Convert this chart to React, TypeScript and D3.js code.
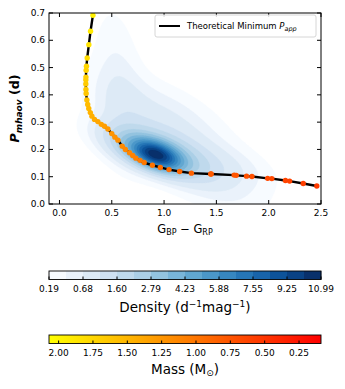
import React, { useMemo } from 'react'
import * as d3 from 'd3'

// theoretical minimum period curve, coloured by stellar mass
const CURVE_COLOR = [
  0.32, 0.297, 0.281, 0.265, 0.258, 0.255, 0.253, 0.252, 0.252, 0.253, 0.255, 0.262,
  0.27, 0.28, 0.295, 0.31, 0.335, 0.367, 0.4, 0.43, 0.463, 0.5, 0.53, 0.559, 0.6,
  0.63, 0.67, 0.7, 0.73, 0.77, 0.81, 0.888, 0.964, 1.047, 1.149, 1.261, 1.446, 1.45,
  1.67, 1.69, 1.788, 1.84, 1.99, 2.03, 2.16, 2.2, 2.33, 2.46,
]
const CURVE_PERIOD = [
  0.692, 0.633, 0.584, 0.535, 0.505, 0.49, 0.465, 0.455, 0.44, 0.42, 0.405, 0.381,
  0.365, 0.35, 0.335, 0.322, 0.31, 0.302, 0.292, 0.285, 0.275, 0.258, 0.245, 0.234,
  0.212, 0.2, 0.188, 0.178, 0.168, 0.16, 0.152, 0.142, 0.134, 0.126, 0.119, 0.113,
  0.11, 0.11, 0.106, 0.105, 0.102, 0.101, 0.094, 0.093, 0.086, 0.084, 0.075, 0.066,
]
const CURVE_MASS = [
  1.95, 1.9, 1.85, 1.8, 1.75, 1.72, 1.7, 1.68, 1.66, 1.64, 1.62, 1.58, 1.55, 1.52,
  1.48, 1.45, 1.42, 1.38, 1.35, 1.32, 1.28, 1.25, 1.22, 1.2, 1.17, 1.15, 1.13, 1.1,
  1.08, 1.05, 1.02, 0.98, 0.95, 0.92, 0.88, 0.85, 0.8, 0.8, 0.75, 0.74, 0.72, 0.7,
  0.66, 0.65, 0.62, 0.61, 0.58, 0.55,
]

// density field: gaussian components estimated from the shaded KDE
const KDE_AMP = [7.3, 3.0, 0.8, 0.5, 0.45, 0.35]
const KDE_CX = [0.92, 0.9, 1.2, 1.0, 0.57, 1.65]
const KDE_CY = [0.18, 0.19, 0.17, 0.33, 0.43, 0.14]
const KDE_SX = [0.15, 0.3, 0.45, 0.42, 0.17, 0.3]
const KDE_SY = [0.035, 0.06, 0.13, 0.1, 0.2, 0.06]
const KDE_RHO = [-0.45, -0.6, -0.75, -0.6, -0.3, -0.5]

// contour levels (labelled every second level)
const LEVELS = [
  0.19, 0.42, 0.68, 1.12, 1.6, 2.2, 2.79, 3.5, 4.23, 5.05, 5.88, 6.7, 7.55, 8.4,
  9.25, 10.1, 10.99,
]

const X_TICKS = [0, 0.5, 1, 1.5, 2, 2.5]
const Y_TICKS = [0, 0.1, 0.2, 0.3, 0.4, 0.5, 0.6, 0.7]
const MASS_TICKS = [2.0, 1.75, 1.5, 1.25, 1.0, 0.75, 0.5, 0.25]
const MASS_MIN = 0.09
const MASS_MAX = 2.07

const W = 345
const H = 389
const margin = { left: 49, right: 24, top: 13, bottom: 185 }
const FONT = 'DejaVu Sans, sans-serif'

function density(x: number, y: number) {
  let s = 0
  for (let i = 0; i < KDE_AMP.length; i++) {
    const u = (x - KDE_CX[i]) / KDE_SX[i]
    const v = (y - KDE_CY[i]) / KDE_SY[i]
    const r = KDE_RHO[i]
    const q = (u * u - 2 * r * u * v + v * v) / (1 - r * r)
    s += KDE_AMP[i] * Math.exp(-q / 2)
  }
  return s
}

const massColor = (m: number) => {
  const g = Math.max(0, Math.min(1, (m - MASS_MIN) / (MASS_MAX - MASS_MIN)))
  return d3.rgb(255, 255 * g, 0).formatHex()
}

export default function App() {
  const iw = W - margin.left - margin.right
  const ih = H - margin.top - margin.bottom
  const x = d3.scaleLinear().domain([-0.1, 2.5]).range([margin.left, margin.left + iw])
  const y = d3.scaleLinear().domain([0, 0.7]).range([margin.top + ih, margin.top])

  const nBands = LEVELS.length - 1
  const bandColor = (i: number) => d3.interpolateBlues(i / (nBands - 1))

  const contours = useMemo(() => {
    const nx = 260
    const ny = 200
    const x0 = -0.1, x1 = 2.5, y0 = 0, y1 = 0.8
    const vals = new Array(nx * ny)
    for (let j = 0; j < ny; j++) {
      for (let i = 0; i < nx; i++) {
        const dx = x0 + ((x1 - x0) * i) / (nx - 1)
        const dy = y0 + ((y1 - y0) * j) / (ny - 1)
        vals[j * nx + i] = density(dx, dy)
      }
    }
    const gen = d3.contours().size([nx, ny]).thresholds(LEVELS.slice(0, -1))
    const cs = gen(vals)
    const gx = d3.scaleLinear().domain([0, nx - 1]).range([x(x0), x(x1)])
    const gy = d3.scaleLinear().domain([0, ny - 1]).range([y(y0), y(y1)])
    const proj = d3.geoTransform({
      point(px: number, py: number) {
        this.stream.point(gx(px - 0.5), gy(py - 0.5))
      },
    })
    const path = d3.geoPath(proj)
    return cs.map((c) => path(c) || '')
  }, [])

  const line = d3
    .line<number>()
    .x((_, i) => x(CURVE_COLOR[i]))
    .y((_, i) => y(CURVE_PERIOD[i]))
  const curvePath = line(CURVE_COLOR) || ''

  // colorbars
  const cbLeft = margin.left
  const cbWidth = iw
  const cb1Top = 271
  const cbH = 8.5
  const cb2Top = 335
  const levelX = d3
    .scaleLinear()
    .domain(LEVELS)
    .range(LEVELS.map((_, i) => cbLeft + (cbWidth * i) / nBands))
  const massX = d3.scaleLinear().domain([MASS_MAX, MASS_MIN]).range([cbLeft, cbLeft + cbWidth])
  const labelLevels = LEVELS.filter((_, i) => i % 2 === 0)

  const tickLen = 4

  return (
    <svg
      width={W}
      height={H}
      style={{ position: 'absolute', left: 0, top: 0, background: '#fff' }}
      fontFamily={FONT}
    >
      <defs>
        <clipPath id="plotClip">
          <rect x={margin.left} y={margin.top} width={iw} height={ih} />
        </clipPath>
        <linearGradient id="massGrad" x1="0" x2="1" y1="0" y2="0">
          {d3.range(0, 1.0001, 0.1).map((t) => (
            <stop
              key={t}
              offset={t}
              stopColor={massColor(massX.invert(cbLeft + t * cbWidth))}
            />
          ))}
        </linearGradient>
      </defs>

      <g clipPath="url(#plotClip)">
        {contours.map((d, i) => (
          <path key={i} d={d} fill={bandColor(i)} stroke={bandColor(i)} strokeWidth={0.3} />
        ))}
        <path d={curvePath} fill="none" stroke="#000" strokeWidth={2.4} />
        {CURVE_COLOR.map((c, i) => (
          <circle key={i} cx={x(c)} cy={y(CURVE_PERIOD[i])} r={2.7} fill={massColor(CURVE_MASS[i])} />
        ))}
      </g>

      {/* frame */}
      <rect x={margin.left} y={margin.top} width={iw} height={ih} fill="none" stroke="#000" strokeWidth={1} />

      {X_TICKS.map((t) => (
        <g key={'x' + t}>
          <line x1={x(t)} x2={x(t)} y1={y(0)} y2={y(0) - tickLen} stroke="#000" />
          <line x1={x(t)} x2={x(t)} y1={y(0.7)} y2={y(0.7) + tickLen} stroke="#000" />
          <text x={x(t)} y={y(0) + 12} fontSize={9} textAnchor="middle">
            {t.toFixed(1)}
          </text>
        </g>
      ))}
      {Y_TICKS.map((t) => (
        <g key={'y' + t}>
          <line x1={margin.left} x2={margin.left + tickLen} y1={y(t)} y2={y(t)} stroke="#000" />
          <line x1={margin.left + iw} x2={margin.left + iw - tickLen} y1={y(t)} y2={y(t)} stroke="#000" />
          <text x={margin.left - 4} y={y(t) + 3} fontSize={9} textAnchor="end">
            {t.toFixed(1)}
          </text>
        </g>
      ))}

      <text x={margin.left + iw / 2} y={233} fontSize={11.5} textAnchor="middle">
        G<tspan fontSize={8} dy={2}>BP</tspan>
        <tspan dy={-2}> − G</tspan>
        <tspan fontSize={8} dy={2}>RP</tspan>
      </text>

      <text
        transform={`translate(19,${margin.top + ih / 2}) rotate(-90)`}
        fontSize={12.5}
        fontWeight="bold"
        textAnchor="middle"
      >
        <tspan fontStyle="italic">P</tspan>
        <tspan fontStyle="italic" fontSize={9} dy={3}>mhaov</tspan>
        <tspan dy={-3}> (d)</tspan>
      </text>

      {/* legend */}
      <rect x={155} y={15} width={161} height={22} rx={2} fill="#fff" fillOpacity={0.85} stroke="#ccc" strokeWidth={0.8} />
      <line x1={159} x2={180} y1={26} y2={26} stroke="#000" strokeWidth={2} />
      <text x={187} y={29} fontSize={8.5}>
        Theoretical Minimum <tspan fontStyle="italic">P</tspan>
        <tspan fontStyle="italic" fontSize={6.5} dy={2}>app</tspan>
      </text>

      {/* density colorbar */}
      {d3.range(nBands).map((i) => (
        <rect
          key={i}
          x={levelX(LEVELS[i])}
          y={cb1Top}
          width={levelX(LEVELS[i + 1]) - levelX(LEVELS[i]) + 0.3}
          height={cbH}
          fill={bandColor(i)}
        />
      ))}
      <rect x={cbLeft} y={cb1Top} width={cbWidth} height={cbH} fill="none" stroke="#000" strokeWidth={0.9} />
      {labelLevels.map((l) => (
        <g key={'l' + l}>
          <line x1={levelX(l)} x2={levelX(l)} y1={cb1Top + cbH} y2={cb1Top + cbH - 3} stroke="#000" />
          <text x={levelX(l)} y={292} fontSize={9} textAnchor="middle">
            {l.toFixed(2)}
          </text>
        </g>
      ))}
      <text x={cbLeft + cbWidth / 2} y={312} fontSize={13.5} textAnchor="middle">
        Density (d<tspan fontSize={9} dy={-5}>−1</tspan>
        <tspan dy={5}>mag</tspan>
        <tspan fontSize={9} dy={-5}>−1</tspan>
        <tspan dy={5}>)</tspan>
      </text>

      {/* mass colorbar */}
      <rect x={cbLeft} y={cb2Top} width={cbWidth} height={cbH} fill="url(#massGrad)" stroke="#000" strokeWidth={0.9} />
      {MASS_TICKS.map((m) => (
        <g key={'m' + m}>
          <line x1={massX(m)} x2={massX(m)} y1={cb2Top + cbH} y2={cb2Top + cbH - 3} stroke="#000" />
          <text x={massX(m)} y={356} fontSize={9} textAnchor="middle">
            {m.toFixed(2)}
          </text>
        </g>
      ))}
      <text x={cbLeft + cbWidth / 2} y={374} fontSize={13.5} textAnchor="middle">
        Mass (M<tspan fontSize={9} dy={2}>⊙</tspan>
        <tspan dy={-2}>)</tspan>
      </text>
    </svg>
  )
}
